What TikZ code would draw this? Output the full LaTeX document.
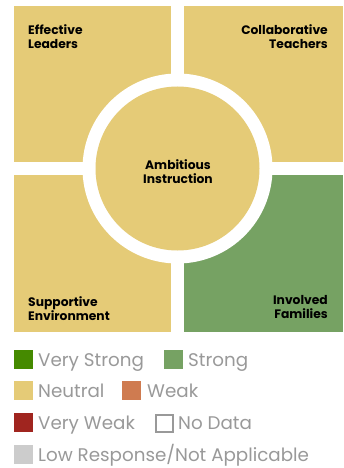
\documentclass[tikz,border=0pt]{standalone}
\usepackage{fontspec}
\setmainfont{Poppins}
\definecolor{neutral}{HTML}{E5CB77}
\definecolor{strong}{HTML}{76A263}
\definecolor{vstrong}{HTML}{458A00}
\definecolor{weak}{HTML}{CF7B50}
\definecolor{vweak}{HTML}{A0251F}
\definecolor{lowresp}{HTML}{CCCCCC}
\definecolor{legtext}{HTML}{999999}
\tikzset{
  quad/.style={inner sep=0},
  lab/.style={inner sep=0, font=\bfseries\fontsize{12.3}{14}\selectfont, text=black},
  sw/.style={minimum size=19pt, inner sep=0, anchor=north west},
  legt/.style={inner sep=0, anchor=base west, text=legtext, font=\fontsize{18.3}{20}\selectfont},
}
\begin{document}
\begin{tikzpicture}[x=1pt,y=-1pt]
\path[use as bounding box, fill=white] (0,0) rectangle (343,468);
\fill[neutral] (14,6) rectangle (171,162);
\fill[neutral] (184,6) rectangle (343,162);
\fill[neutral] (14,175) rectangle (171,332);
\fill[strong] (184,175) rectangle (343,332);
\fill[white] (177.5,168.5) circle[radius=95];
\fill[neutral] (177.5,168.5) circle[radius=82];
\node[lab, anchor=north west, align=left] (el) at (28,24) {Effective\\Leaders};
\node[lab, anchor=north east, align=right] (ct) at (328,24) {Collaborative\\Teachers};
\node[lab, align=center] (ai) at (178,172) {Ambitious\\Instruction};
\node[lab, anchor=north west, align=left] (se) at (28,296) {Supportive\\Environment};
\node[lab, anchor=north east, align=right] (if) at (328,295) {Involved\\Families};
% legend
\node[sw, fill=vstrong] (s1) at (14,350) {};
\node[legt] (t1) at (38,366) {Very Strong};
\node[sw, fill=strong] (s2) at (164,350) {};
\node[legt] (t2) at (188,366) {Strong};
\node[sw, fill=neutral] (s3) at (14,381) {};
\node[legt] (t3) at (38,397.5) {Neutral};
\node[sw, fill=weak] (s4) at (122,381) {};
\node[legt] (t4) at (147,397.5) {Weak};
\node[sw, fill=vweak] (s5) at (14,413) {};
\node[legt] (t5) at (38,429.5) {Very Weak};
\node[sw, minimum size=17pt, draw=legtext, line width=1.6pt] (s6) at (155,414) {};
\node[legt] (t6) at (178,429.5) {No Data};
\node[sw, fill=lowresp] (s7) at (14,445) {};
\node[legt] (t7) at (38,461.5) {Low Response/Not Applicable};
\end{tikzpicture}
\end{document}
